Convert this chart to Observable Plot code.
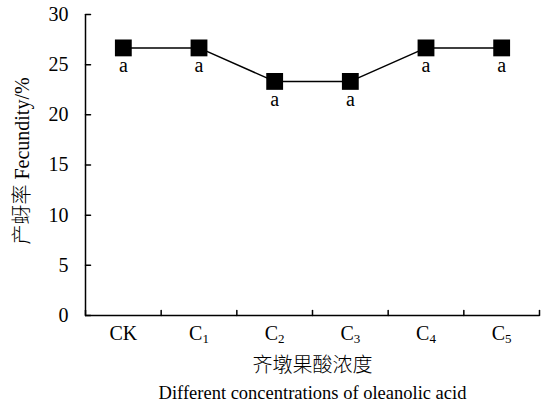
<!DOCTYPE html>
<html>
<head>
<meta charset="utf-8">
<script src="https://cdn.jsdelivr.net/npm/d3@7"></script>
<script src="https://cdn.jsdelivr.net/npm/@observablehq/plot@0.6"></script>
<style>
  html, body { margin: 0; padding: 0; background: #fff; }
  #chart svg { display: block; }
</style>
</head>
<body>
<div id="chart"></div>
<script>
const categories = ["CK", "C1", "C2", "C3", "C4", "C5"];
const fecundity = [26.67, 26.67, 23.33, 23.33, 26.67, 26.67];
const letters = ["a", "a", "a", "a", "a", "a"];
const yTicks = [0, 5, 10, 15, 20, 25, 30];
const yLabel = "产蚜率 Fecundity/%";
const xLabelZh = "齐墩果酸浓度";
const xLabelEn = "Different concentrations of oleanolic acid";

const data = categories.map((c, i) => ({cat: c, i, x: i + 0.5, y: fecundity[i], letter: letters[i]}));
const bounds = d3.range(categories.length + 1);
const tickShape = {draw(ctx, l) { ctx.moveTo(0, 0); ctx.lineTo(0, -l); }};

const font = "'Liberation Serif', 'Times New Roman', 'Noto Sans CJK SC', serif";

const chart = Plot.plot({
  width: 543,
  height: 412,
  marginLeft: 85,
  marginRight: 4,
  marginTop: 14,
  marginBottom: 97,
  style: {fontFamily: font, fontSize: "20px", color: "#000", background: "#fff"},
  x: {type: "linear", domain: [0, categories.length], axis: null},
  y: {domain: [0, 30], axis: null},
  marks: [
    // axis lines
    Plot.ruleX([0], {stroke: "#000", strokeWidth: 1.5}),
    Plot.ruleY([0], {stroke: "#000", strokeWidth: 1.5}),
    // y ticks (inward)
    Plot.vector(yTicks, {x: 0, y: d => d, length: 5, rotate: 90, anchor: "start", shape: tickShape, stroke: "#000", strokeWidth: 1.5}),
    Plot.text(yTicks, {x: 0, y: d => d, text: d => String(d), textAnchor: "end", dx: -17, fontSize: 20}),
    // x ticks at band boundaries (inward)
    Plot.vector(bounds, {x: d => d, y: 0, length: 5, rotate: 0, anchor: "start", shape: tickShape, stroke: "#000", strokeWidth: 1.5}),
    Plot.text(data, {x: "x", frameAnchor: "bottom", text: "cat", dy: 24, fontSize: 20, className: "xcat"}),
    // series
    Plot.line(data, {x: "x", y: "y", stroke: "#000", strokeWidth: 1.5}),
    Plot.dot(data, {x: "x", y: "y", symbol: "square", r: 9.5, fill: "#000", stroke: "none"}),
    Plot.text(data, {x: "x", y: "y", text: "letter", dy: 18, fontSize: 20}),
    // axis titles
    Plot.text([yLabel], {frameAnchor: "left", textAnchor: "middle", rotate: -90, dx: -63, dy: -4, fontSize: 20, fontWeight: 300}),
    Plot.text([xLabelZh], {frameAnchor: "bottom", dy: 56, fontSize: 20, fontWeight: 300}),
    Plot.text([xLabelEn], {frameAnchor: "bottom", dy: 83, fontSize: 18.5})
  ]
});

// subscript digits for C1..C5 tick labels
d3.select(chart).selectAll("g.xcat text").each(function () {
  const t = this.textContent;
  const m = /^([A-Za-z]+)(\d+)$/.exec(t);
  if (m) {
    const sel = d3.select(this);
    sel.text(null);
    sel.append("tspan").text(m[1]);
    sel.append("tspan").attr("dy", "0.3em").attr("font-size", "13px").text(m[2]);
  }
});

document.getElementById("chart").appendChild(chart);
</script>
</body>
</html>
